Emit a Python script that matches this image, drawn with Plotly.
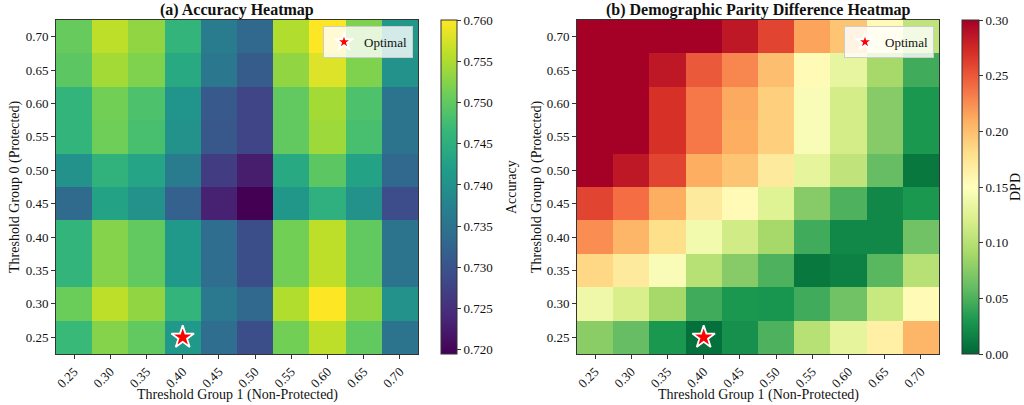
import plotly.graph_objects as go

thresholds = [0.25, 0.30, 0.35, 0.40, 0.45, 0.50, 0.55, 0.60, 0.65, 0.70]
tick_labels = ["0.25", "0.30", "0.35", "0.40", "0.45", "0.50", "0.55", "0.60", "0.65", "0.70"]

# rows listed from threshold 0.25 (bottom) up to 0.70 (top)
accuracy = [
    [0.7468, 0.7524, 0.7500, 0.7412, 0.7340, 0.7292, 0.7512, 0.7560, 0.7500, 0.7350],  # 0.25
    [0.7508, 0.7560, 0.7532, 0.7460, 0.7360, 0.7330, 0.7552, 0.7600, 0.7532, 0.7400],  # 0.30
    [0.7460, 0.7524, 0.7500, 0.7412, 0.7340, 0.7292, 0.7512, 0.7560, 0.7500, 0.7350],  # 0.35
    [0.7460, 0.7524, 0.7500, 0.7412, 0.7340, 0.7292, 0.7512, 0.7560, 0.7500, 0.7350],  # 0.40
    [0.7336, 0.7428, 0.7400, 0.7320, 0.7232, 0.7195, 0.7408, 0.7452, 0.7400, 0.7290],  # 0.45
    [0.7400, 0.7456, 0.7432, 0.7364, 0.7268, 0.7228, 0.7440, 0.7496, 0.7428, 0.7330],  # 0.50
    [0.7460, 0.7510, 0.7480, 0.7400, 0.7306, 0.7280, 0.7500, 0.7540, 0.7480, 0.7350],  # 0.55
    [0.7460, 0.7512, 0.7484, 0.7404, 0.7308, 0.7280, 0.7500, 0.7544, 0.7484, 0.7350],  # 0.60
    [0.7496, 0.7544, 0.7520, 0.7440, 0.7356, 0.7312, 0.7532, 0.7580, 0.7520, 0.7400],  # 0.65
    [0.7504, 0.7560, 0.7532, 0.7460, 0.7364, 0.7332, 0.7552, 0.7600, 0.7520, 0.7410],  # 0.70
]

dpd = [
    [0.077, 0.060, 0.030, 0.005, 0.025, 0.050, 0.100, 0.130, 0.165, 0.205],  # 0.25
    [0.137, 0.120, 0.090, 0.045, 0.030, 0.028, 0.045, 0.065, 0.110, 0.155],  # 0.30
    [0.185, 0.170, 0.145, 0.100, 0.075, 0.050, 0.010, 0.015, 0.055, 0.100],  # 0.35
    [0.225, 0.205, 0.180, 0.140, 0.115, 0.090, 0.045, 0.020, 0.020, 0.065],  # 0.40
    [0.260, 0.240, 0.210, 0.170, 0.155, 0.125, 0.075, 0.050, 0.020, 0.030],  # 0.45
    [0.310, 0.285, 0.260, 0.210, 0.197, 0.170, 0.130, 0.105, 0.060, 0.010],  # 0.50
    [0.320, 0.310, 0.270, 0.235, 0.210, 0.190, 0.145, 0.117, 0.075, 0.030],  # 0.55
    [0.320, 0.310, 0.270, 0.235, 0.212, 0.190, 0.145, 0.117, 0.075, 0.030],  # 0.60
    [0.330, 0.320, 0.285, 0.250, 0.228, 0.200, 0.155, 0.132, 0.090, 0.045],  # 0.65
    [0.330, 0.320, 0.310, 0.300, 0.285, 0.260, 0.215, 0.197, 0.155, 0.105],  # 0.70
]

optimal_g1 = [0.40]
optimal_g0 = [0.25]

acc_ticks = [0.720, 0.725, 0.730, 0.735, 0.740, 0.745, 0.750, 0.755, 0.760]
dpd_ticks = [0.00, 0.05, 0.10, 0.15, 0.20, 0.25, 0.30]

rdylgn_r = [
    [0.0, "#006837"], [0.1, "#1a9850"], [0.2, "#66bd63"], [0.3, "#a6d96a"],
    [0.4, "#d9ef8b"], [0.5, "#ffffbf"], [0.6, "#fee08b"], [0.7, "#fdae61"],
    [0.8, "#f46d43"], [0.9, "#d73027"], [1.0, "#a50026"],
]

FONT = "Liberation Serif, Times New Roman, serif"
W, H = 1024, 405
top_px, bot_px = 20, 354
yd = [(H - bot_px) / H, (H - top_px) / H]
xd1 = [56 / W, 418 / W]
xd2 = [577 / W, 939 / W]

acc_min = min(min(r) for r in accuracy)
acc_max = max(max(r) for r in accuracy)

fig = go.Figure()

fig.add_trace(go.Heatmap(
    x=thresholds, y=thresholds, z=accuracy,
    colorscale="Viridis", zmin=acc_min, zmax=acc_max,
    xaxis="x", yaxis="y", showscale=True,
    hoverinfo="skip",
    colorbar=dict(
        x=441 / W, xanchor="left", xref="paper", xpad=0, ypad=0,
        y=yd[1], yanchor="top", len=(bot_px - top_px) / H, lenmode="fraction",
        thickness=16, outlinewidth=1, outlinecolor="#333",
        tickvals=acc_ticks, ticktext=[f"{v:.3f}" for v in acc_ticks],
        ticks="outside", ticklen=4, tickcolor="#333",
        tickfont=dict(family=FONT, size=13, color="#111"),
    ),
))

fig.add_trace(go.Heatmap(
    x=thresholds, y=thresholds, z=dpd,
    colorscale=rdylgn_r, zmin=0.0, zmax=0.30,
    xaxis="x2", yaxis="y2", showscale=True,
    hoverinfo="skip",
    colorbar=dict(
        x=962 / W, xanchor="left", xref="paper", xpad=0, ypad=0,
        y=yd[1], yanchor="top", len=(bot_px - top_px) / H, lenmode="fraction",
        thickness=17, outlinewidth=1, outlinecolor="#333",
        tickvals=dpd_ticks, ticktext=[f"{v:.2f}" for v in dpd_ticks],
        ticks="outside", ticklen=4, tickcolor="#333",
        tickfont=dict(family=FONT, size=13, color="#111"),
    ),
))

star = dict(symbol="star", size=17, color="red", line=dict(color="white", width=1.8))
fig.add_trace(go.Scatter(x=optimal_g1, y=optimal_g0, mode="markers", marker=star,
                         name="Optimal", xaxis="x", yaxis="y", legend="legend", showlegend=True))
fig.add_trace(go.Scatter(x=optimal_g1, y=optimal_g0, mode="markers", marker=star,
                         name="Optimal", xaxis="x2", yaxis="y2", legend="legend2", showlegend=True))

axis_common = dict(
    range=[0.225, 0.725], tickvals=thresholds, ticktext=tick_labels,
    ticks="outside", ticklen=4, tickcolor="#333",
    showline=True, mirror=True, linecolor="#333", linewidth=1,
    showgrid=False, zeroline=False, automargin=False,
    tickfont=dict(family=FONT, size=13, color="#111"),
)

legend_common = dict(
    bgcolor="rgba(255,255,255,0.8)", bordercolor="#cccccc", borderwidth=1,
    font=dict(family=FONT, size=13, color="#111"),
    xanchor="right", yanchor="top", itemsizing="constant",
)

def ann(text, x, y, size, angle=0):
    return dict(text=text, x=x, y=y, xref="paper", yref="paper", showarrow=False,
                xanchor="center", yanchor="middle", textangle=angle,
                font=dict(family=FONT, size=size, color="#111"))

fig.update_layout(
    width=W, height=H,
    margin=dict(l=0, r=0, t=0, b=0, autoexpand=False),
    paper_bgcolor="white", plot_bgcolor="white",
    font=dict(family=FONT, color="#111"),
    xaxis=dict(domain=xd1, anchor="y", tickangle=-45, **axis_common),
    yaxis=dict(domain=yd, anchor="x", **axis_common),
    xaxis2=dict(domain=xd2, anchor="y2", tickangle=-45, **axis_common),
    yaxis2=dict(domain=yd, anchor="x2", **axis_common),
    legend=dict(x=413 / W, y=(H - 26) / H, **legend_common),
    legend2=dict(x=934 / W, y=(H - 26) / H, **legend_common),
    annotations=[
        ann("<b>(a) Accuracy Heatmap</b>", (xd1[0] + xd1[1]) / 2, (H - 10) / H, 16),
        ann("<b>(b) Demographic Parity Difference Heatmap</b>", (xd2[0] + xd2[1]) / 2, (H - 10) / H, 16),
        ann("Threshold Group 1 (Non-Protected)", (xd1[0] + xd1[1]) / 2, (H - 395) / H, 14),
        ann("Threshold Group 1 (Non-Protected)", (xd2[0] + xd2[1]) / 2, (H - 395) / H, 14),
        ann("Threshold Group 0 (Protected)", 15 / W, (yd[0] + yd[1]) / 2, 14, -90),
        ann("Threshold Group 0 (Protected)", 537 / W, (yd[0] + yd[1]) / 2, 14, -90),
        ann("Accuracy", 512 / W, (yd[0] + yd[1]) / 2, 14, -90),
        ann("DPD", 1016 / W, (yd[0] + yd[1]) / 2, 14, -90),
    ],
)

fig.write_html("out.html", config={"displayModeBar": False},
               post_script="document.body.style.margin='0';document.body.style.overflow='hidden';")
